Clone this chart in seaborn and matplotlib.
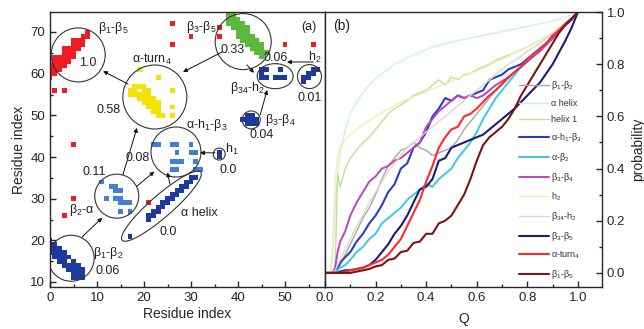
import matplotlib
matplotlib.use("Agg")
import matplotlib.pyplot as plt
import numpy as np
import pandas as pd
import seaborn as sns
from matplotlib.patches import Ellipse
from matplotlib.transforms import Affine2D
from matplotlib.ticker import MultipleLocator

# ---------------- contact map cells (residue i, residue j) ----------------
red_cells = [(8, 70), (7, 69), (8, 69), (5, 68), (6, 68), (7, 68), (5, 67), (6, 67), (7, 67),
             (3, 66), (4, 66), (5, 66), (6, 66), (3, 65), (4, 65), (5, 65),
             (1, 64), (2, 64), (3, 64), (4, 64), (5, 64), (1, 63), (2, 63), (3, 63), (4, 63),
             (0, 62), (1, 62), (2, 62), (3, 62), (0, 61), (1, 61), (2, 61), (0, 60), (1, 60), (0, 59),
             (1, 56), (3, 56), (5, 43), (5, 30), (3, 26), (21, 29),
             (26, 72), (26, 67), (30, 69), (36, 71), (36, 69), (50, 67), (56, 67)]
green_cells = [(38, 74), (39, 74), (38, 73), (39, 73), (40, 73), (38, 72), (39, 72), (40, 72), (41, 72),
               (39, 71), (40, 71), (41, 71), (42, 71), (40, 70), (41, 70), (42, 70),
               (40, 69), (41, 69), (42, 69), (43, 69), (41, 68), (42, 68), (43, 68), (44, 68),
               (42, 67), (43, 67), (44, 67), (45, 67), (43, 66), (44, 66), (45, 66),
               (44, 65), (45, 65), (46, 65), (45, 64)]
yellow_cells = [(18, 57), (19, 57), (20, 57), (17, 56), (18, 56), (20, 56), (21, 56),
                (17, 55), (18, 55), (19, 55), (20, 55), (21, 55), (19, 54), (20, 54), (21, 54), (22, 54),
                (20, 53), (21, 53), (22, 53), (23, 53), (21, 52), (22, 52), (23, 52), (22, 51), (23, 51),
                (23, 50), (24, 50), (19, 61), (23, 59), (26, 56), (26, 52), (26, 50)]
navy_cells = [(0, 20), (0, 19), (1, 19), (0, 18), (1, 18), (2, 18), (0, 17), (1, 17), (2, 17), (3, 17),
              (1, 16), (2, 16), (3, 16), (4, 16), (2, 15), (3, 15), (5, 15), (3, 14), (4, 14), (5, 14), (6, 14),
              (4, 13), (5, 13), (6, 13), (7, 13), (5, 12), (6, 12), (7, 12), (5, 11), (6, 11), (7, 11),
              (17, 21), (21, 25), (21, 26), (22, 26), (22, 27), (23, 27), (23, 28), (24, 28), (24, 29),
              (25, 29), (25, 30), (26, 30), (26, 31), (27, 31), (27, 32), (28, 32), (28, 33), (29, 33),
              (29, 34), (30, 34), (30, 35), (31, 35),
              (36, 41), (36, 40),
              (42, 50), (43, 50), (41, 49), (42, 49), (43, 49), (44, 49), (42, 48), (43, 48), (44, 48),
              (45, 61), (46, 61), (45, 60), (45, 59), (46, 59), (48, 59), (49, 59), (50, 59), (49, 61),
              (56, 61), (57, 61), (55, 60), (56, 60), (54, 59), (55, 59), (54, 58)]
sky_cells = [(11, 34), (13, 33), (14, 33), (14, 32), (15, 32), (12, 30), (14, 30), (15, 30),
             (15, 29), (16, 29), (17, 29), (15, 27), (17, 27),
             (22, 43), (23, 43), (26, 43), (27, 43), (30, 43), (27, 41), (30, 41), (31, 41),
             (26, 39), (27, 39), (28, 39), (31, 39), (26, 37), (27, 37), (31, 37), (32, 37)]
cell_colors = {"red": "#ee1c25", "green": "#5cb83c", "yellow": "#f2e400",
               "navy": "#1f3a9e", "sky": "#3f80d4"}

# ---------------- contact formation probability vs Q ----------------
Q = [0.0, 0.02, 0.03, 0.04, 0.05, 0.06, 0.08, 0.10, 0.125, 0.15, 0.175,
     0.20, 0.225, 0.25, 0.275, 0.30, 0.325, 0.35, 0.375, 0.40, 0.425, 0.45,
     0.475, 0.50, 0.525, 0.55, 0.575, 0.60, 0.625, 0.65, 0.675, 0.70, 0.725,
     0.75, 0.775, 0.80, 0.825, 0.85, 0.875, 0.90, 0.925, 0.95, 0.975, 1.0]
p_b1b2 = [0, 0, 0, 0, 0.01, 0.03, 0.07, 0.11, 0.16, 0.21, 0.25,
          0.30, 0.36, 0.41, 0.44, 0.47, 0.48, 0.50, 0.48, 0.47, 0.45, 0.46,
          0.47, 0.48, 0.51, 0.55, 0.58, 0.61, 0.64, 0.67, 0.70, 0.72, 0.745,
          0.77, 0.79, 0.81, 0.83, 0.855, 0.875, 0.90, 0.925, 0.95, 0.975, 1.0]
p_ahelix = [0, 0, 0.05, 0.25, 0.38, 0.46, 0.55, 0.61, 0.655, 0.69, 0.72,
            0.745, 0.765, 0.78, 0.80, 0.81, 0.825, 0.835, 0.845, 0.855, 0.865, 0.872,
            0.878, 0.884, 0.89, 0.895, 0.90, 0.905, 0.91, 0.915, 0.92, 0.925, 0.93,
            0.935, 0.94, 0.945, 0.95, 0.955, 0.96, 0.966, 0.972, 0.98, 0.99, 1.0]
p_helix1 = [0, 0, 0, 0.02, 0.38, 0.33, 0.40, 0.44, 0.47, 0.50, 0.52,
            0.55, 0.58, 0.61, 0.63, 0.645, 0.66, 0.68, 0.69, 0.70, 0.72, 0.74,
            0.72, 0.75, 0.74, 0.76, 0.765, 0.78, 0.79, 0.80, 0.815, 0.825, 0.835,
            0.845, 0.855, 0.865, 0.88, 0.89, 0.905, 0.92, 0.94, 0.955, 0.975, 1.0]
p_ah1b3 = [0, 0, 0, 0.01, 0.02, 0.04, 0.06, 0.08, 0.12, 0.15, 0.19,
           0.22, 0.26, 0.31, 0.34, 0.40, 0.42, 0.48, 0.50, 0.54, 0.60, 0.63,
           0.67, 0.66, 0.68, 0.67, 0.68, 0.69, 0.70, 0.74, 0.75, 0.76, 0.78,
           0.79, 0.80, 0.82, 0.84, 0.86, 0.88, 0.90, 0.93, 0.95, 0.97, 1.0]
p_ab2 = [0, 0, 0, 0, 0.01, 0.02, 0.03, 0.05, 0.08, 0.10, 0.13,
         0.15, 0.19, 0.21, 0.23, 0.25, 0.28, 0.30, 0.32, 0.34, 0.33, 0.36,
         0.38, 0.40, 0.44, 0.47, 0.50, 0.54, 0.59, 0.63, 0.67, 0.70, 0.73,
         0.76, 0.79, 0.81, 0.84, 0.86, 0.88, 0.91, 0.93, 0.955, 0.975, 1.0]
p_b3b4 = [0, 0, 0, 0.02, 0.08, 0.12, 0.16, 0.22, 0.27, 0.31, 0.35,
          0.37, 0.40, 0.41, 0.43, 0.44, 0.46, 0.48, 0.50, 0.56, 0.59, 0.62,
          0.64, 0.66, 0.68, 0.67, 0.68, 0.67, 0.68, 0.70, 0.72, 0.735, 0.75,
          0.77, 0.79, 0.81, 0.83, 0.85, 0.875, 0.90, 0.925, 0.95, 0.975, 1.0]
p_h2 = [0, 0, 0.10, 0.35, 0.45, 0.48, 0.51, 0.53, 0.55, 0.57, 0.585,
        0.60, 0.615, 0.63, 0.64, 0.655, 0.665, 0.675, 0.685, 0.695, 0.705, 0.715,
        0.725, 0.735, 0.745, 0.755, 0.765, 0.775, 0.785, 0.795, 0.81, 0.82, 0.83,
        0.845, 0.855, 0.865, 0.88, 0.89, 0.905, 0.92, 0.935, 0.955, 0.975, 1.0]
p_b34h2 = [0, 0, 0, 0.01, 0.03, 0.05, 0.09, 0.13, 0.18, 0.22, 0.27,
           0.31, 0.35, 0.39, 0.42, 0.45, 0.48, 0.50, 0.52, 0.54, 0.56, 0.58,
           0.60, 0.62, 0.64, 0.66, 0.68, 0.70, 0.72, 0.74, 0.76, 0.78, 0.80,
           0.815, 0.83, 0.85, 0.865, 0.88, 0.90, 0.915, 0.935, 0.955, 0.975, 1.0]
p_b3b5 = [0, 0, 0, 0, 0, 0.005, 0.01, 0.01, 0.015, 0.02, 0.03,
          0.05, 0.08, 0.11, 0.15, 0.18, 0.22, 0.27, 0.32, 0.33, 0.36, 0.43,
          0.44, 0.48, 0.49, 0.50, 0.51, 0.52, 0.53, 0.55, 0.57, 0.59, 0.61,
          0.63, 0.655, 0.68, 0.705, 0.73, 0.765, 0.80, 0.845, 0.89, 0.94, 1.0]
p_aturn4 = [0, 0, 0, 0, 0, 0, 0.005, 0.01, 0.015, 0.02, 0.03,
            0.04, 0.05, 0.07, 0.10, 0.13, 0.18, 0.23, 0.28, 0.35, 0.41, 0.48,
            0.52, 0.55, 0.56, 0.60, 0.61, 0.63, 0.655, 0.68, 0.70, 0.725, 0.75,
            0.77, 0.79, 0.82, 0.84, 0.86, 0.88, 0.91, 0.93, 0.955, 0.975, 1.0]
p_b1b5 = [0, 0, 0, 0, 0, 0, 0, 0, 0.005, 0.01, 0.015,
          0.025, 0.03, 0.05, 0.055, 0.08, 0.085, 0.115, 0.12, 0.15, 0.15, 0.19,
          0.20, 0.22, 0.26, 0.30, 0.36, 0.43, 0.49, 0.52, 0.54, 0.56, 0.59,
          0.63, 0.68, 0.72, 0.76, 0.80, 0.84, 0.88, 0.92, 0.95, 0.975, 1.0]

curve_labels = ["β$_1$-β$_2$", "α helix", "helix 1", "α-h$_1$-β$_3$", "α-β$_2$", "β$_3$-β$_4$",
                "h$_2$", "β$_{34}$-h$_2$", "β$_3$-β$_5$", "α-turn$_4$", "β$_1$-β$_5$"]
curve_values = [p_b1b2, p_ahelix, p_helix1, p_ah1b3, p_ab2, p_b3b4,
                p_h2, p_b34h2, p_b3b5, p_aturn4, p_b1b5]
curve_colors = ["#a8a8a8", "#cdeef5", "#c5dc9a", "#2a3fbf", "#3cc8e8", "#c043c0",
                "#eef2a8", "#d9d9cc", "#1c1c78", "#ff2a2a", "#7c1414"]
curve_widths = [1.0, 1.0, 1.0, 1.5, 1.4, 1.4, 1.0, 1.0, 1.5, 1.5, 1.5]

# ---------------- style ----------------
sns.set_style("ticks")
plt.rcParams["font.family"] = ["Liberation Sans", "DejaVu Sans"]
plt.rcParams["mathtext.default"] = "regular"
plt.rcParams["axes.linewidth"] = 1.0
plt.rcParams["text.color"] = "#222222"

fig = plt.figure(figsize=(6.44, 3.29), dpi=100)
axA = fig.add_axes([50 / 644, 42 / 329, 275 / 644, 275 / 329])
axB = fig.add_axes([325 / 644, 42 / 329, 277 / 644, 275 / 329])

# ---------------- panel (a): contact map ----------------
rows = []
for kind, lst in [("red", red_cells), ("green", green_cells), ("yellow", yellow_cells),
                  ("navy", navy_cells), ("sky", sky_cells)]:
    rows += [(i, j, kind) for i, j in lst]
cells = pd.DataFrame(rows, columns=["i", "j", "kind"])
sns.scatterplot(data=cells, x="i", y="j", hue="kind", palette=cell_colors, marker="s",
                s=12, linewidth=0, legend=False, ax=axA, zorder=2)

axA.set_xlim(0, 58.5)
axA.set_ylim(8.8, 74.8)
axA.set_xticks([0, 10, 20, 30, 40, 50])
axA.set_yticks([10, 20, 30, 40, 50, 60, 70])
axA.xaxis.set_minor_locator(MultipleLocator(5))
axA.yaxis.set_minor_locator(MultipleLocator(5))
axA.tick_params(which="both", direction="in", labelsize=9.5, width=1.0)
axA.tick_params(which="major", length=4)
axA.tick_params(which="minor", length=2)
axA.set_xlabel("Residue index", fontsize=10, labelpad=2)
axA.set_ylabel("Residue index", fontsize=10, labelpad=3)
for s in axA.spines.values():
    s.set_visible(True)

fig.canvas.draw()
bb = axA.get_position()
sx = bb.width * fig.get_figwidth() * fig.dpi / (58.5 - 0)
sy = bb.height * fig.get_figheight() * fig.dpi / (74.8 - 8.8)
pix = Affine2D().scale(1 / sx, 1 / sy) + axA.transData


def ring(cx, cy, w, h=None, angle=0):
    axA.add_patch(Ellipse((cx * sx, cy * sy), w, h if h else w, angle=angle, transform=pix,
                          fill=False, ec="#333333", lw=0.8, zorder=3))


ring(6.0, 64.5, 54)        # beta1-beta5
ring(22.3, 54.4, 64)       # alpha-turn4
ring(41.1, 67.7, 56)       # beta3-beta5
ring(47.9, 59.4, 36, 25)   # beta34-h2
ring(55.2, 59.3, 24)       # h2
ring(42.8, 48.9, 18)       # beta3-beta4
ring(36.0, 40.7, 12)       # h1
ring(26.8, 41.2, 50)       # alpha-h1-beta3
ring(14.2, 30.6, 44)       # beta2-alpha
ring(4.5, 15.7, 46)        # beta1-beta2
ring(23.7, 28.2, 104, 22, angle=41)  # alpha helix

arrows = [((16.6, 57.5), (11.3, 60.6)), ((36.6, 65.2), (28.3, 60.4)),
          ((41.9, 62.1), (43.4, 60.2)), ((56.0, 62.8), (50.4, 62.8)),
          ((44.7, 50.1), (46.2, 56.1)), ((35.1, 41.0), (31.9, 41.0)),
          ((15.5, 35.7), (18.5, 47.0)), ((6.8, 20.8), (11.1, 25.4)),
          ((18.5, 33.0), (22.2, 36.5)), ((25.5, 33.5), (25.0, 36.3))]
for start, end in arrows:
    axA.annotate("", xy=end, xytext=start,
                 arrowprops=dict(arrowstyle="-|>", color="#111111", lw=0.7,
                                 mutation_scale=6, shrinkA=0, shrinkB=0), zorder=4)

notes = [("β$_1$-β$_5$", 13.4, 71.0), ("1.0", 8.0, 62.6), ("β$_3$-β$_5$", 32.1, 71.2),
         ("0.33", 38.9, 65.7), ("α-turn$_4$", 21.7, 63.3), ("0.58", 12.4, 51.3),
         ("0.06", 48.1, 63.8), ("h$_2$", 56.4, 64.0), ("β$_{34}$-h$_2$", 42.0, 56.6),
         ("0.01", 55.3, 54.2), ("β$_3$-β$_4$", 48.9, 48.9), ("0.04", 45.0, 45.3),
         ("α-h$_1$-β$_3$", 33.4, 47.6), ("0.08", 18.7, 39.8), ("h$_1$", 38.6, 41.7),
         ("0.0", 37.9, 36.9), ("0.11", 9.5, 36.5), ("β$_2$-α", 6.8, 27.3),
         ("α helix", 31.7, 26.6), ("0.0", 25.1, 22.0), ("β$_1$-β$_2$", 12.4, 17.0),
         ("0.06", 12.3, 12.7), ("(a)", 55.1, 71.2)]
for txt, x, y in notes:
    axA.text(x, y, txt, fontsize=9, ha="center", va="center", zorder=5)

# ---------------- panel (b): probability vs Q ----------------
for lab, vals, col, lw in zip(curve_labels, curve_values, curve_colors, curve_widths):
    sns.lineplot(x=Q, y=vals, color=col, lw=lw, label=lab, ax=axB, estimator=None)

axB.set_xlim(0, 1.095)
axB.set_ylim(-0.054, 1.0)
axB.set_xticks([0.0, 0.2, 0.4, 0.6, 0.8, 1.0])
axB.set_yticks([0.0, 0.2, 0.4, 0.6, 0.8, 1.0])
axB.xaxis.set_minor_locator(MultipleLocator(0.1))
axB.yaxis.set_minor_locator(MultipleLocator(0.1))
axB.xaxis.set_major_formatter(plt.FormatStrFormatter("%.1f"))
axB.yaxis.set_major_formatter(plt.FormatStrFormatter("%.1f"))
axB.yaxis.tick_right()
axB.yaxis.set_label_position("right")
axB.tick_params(which="both", direction="in", labelsize=9.5, width=1.0)
axB.tick_params(which="major", length=4)
axB.tick_params(which="minor", length=2)
axB.set_xlabel("Q", fontsize=10, labelpad=6)
axB.set_ylabel("probability", fontsize=10, labelpad=4)
axB.text(0.03, 0.95, "(b)", transform=axB.transAxes, fontsize=10, ha="left", va="center")
for s in axB.spines.values():
    s.set_visible(True)

leg = axB.legend(loc="upper left", bbox_to_anchor=(0.70, 0.755), frameon=False,
                 fontsize=6.5, handlelength=3.3, handletextpad=0.3, labelspacing=0.76,
                 borderpad=0, borderaxespad=0)
for t in leg.get_texts():
    t.set_color("#333333")

fig.savefig("out.png", dpi=100)
